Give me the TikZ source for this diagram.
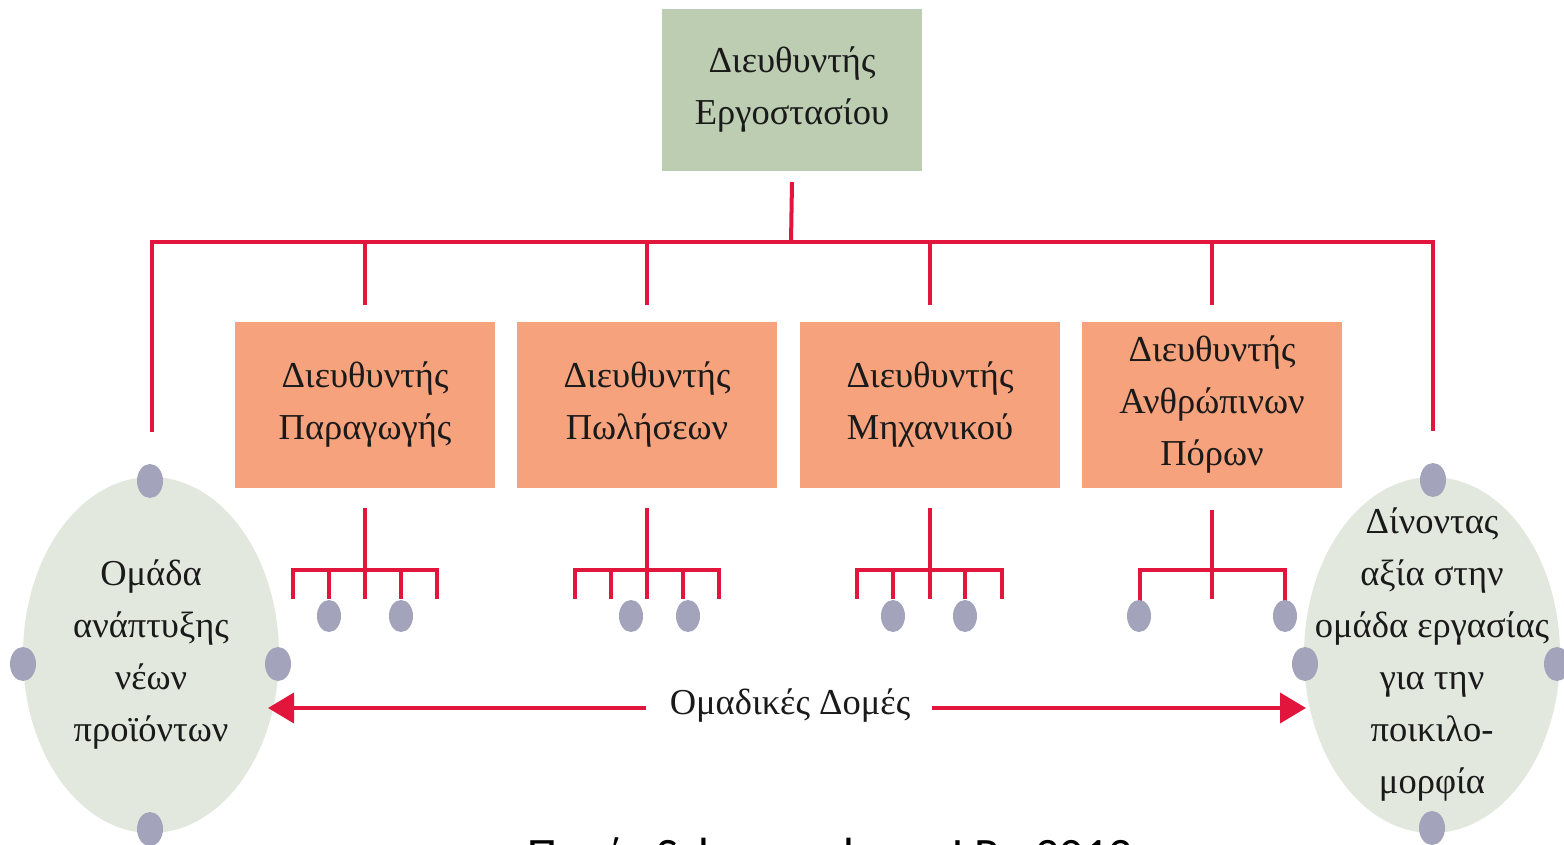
\documentclass[tikz,border=0pt]{standalone}
\usepackage{fontspec}
\setmainfont{Liberation Serif}
\newfontfamily\srcfont{Carlito}
\usetikzlibrary{shapes.geometric,arrows.meta}
\definecolor{topgreen}{HTML}{BCCDB2}
\definecolor{boxorange}{HTML}{F5A27D}
\definecolor{linered}{HTML}{E2163D}
\definecolor{ellfill}{HTML}{E3E8DE}
\definecolor{dotgray}{HTML}{A3A3BC}
\definecolor{textdark}{HTML}{1A1A1A}
\tikzset{
  txt/.style={font=\fontsize{36.5}{52}\selectfont, text=textdark, align=center},
  topbox/.style={txt, fill=topgreen, minimum width=260pt, minimum height=162pt, inner sep=0pt},
  mgrbox/.style={txt, fill=boxorange, minimum width=260pt, minimum height=166pt, inner sep=0pt},
  teamell/.style={ellipse, fill=ellfill, minimum width=256pt, minimum height=356pt, inner sep=0pt},
  bigdot/.style={ellipse, fill=dotgray, minimum width=26pt, minimum height=34pt, inner sep=0pt},
  smalldot/.style={ellipse, fill=dotgray, minimum width=24pt, minimum height=32pt, inner sep=0pt},
  redline/.style={draw=linered, line width=4pt},
  redarrow/.style={redline, -{Triangle[length=26pt,width=30pt]}},
}
\begin{document}
\begin{tikzpicture}[x=1pt,y=-1pt]
\useasboundingbox (0,0) rectangle (1564,845);
\clip (0,0) rectangle (1564,845);
\fill[white] (0,0) rectangle (1564,845);

% top box
\node[topbox] (T) at (792,90) {Διευθυντής\\Εργοστασίου};

% manager boxes
\node[mgrbox] (B1) at (365,405) {Διευθυντής\\Παραγωγής};
\node[mgrbox] (B2) at (647,405) {Διευθυντής\\Πωλήσεων};
\node[mgrbox] (B3) at (930,405) {Διευθυντής\\Μηχανικού};
\node[mgrbox] (B4) at (1212,405) {Διευθυντής\\Ανθρώπινων\\Πόρων};

% team ellipses
\node[teamell] (L) at (151,655) {};
\node[teamell] (R) at (1432,655) {};
\node[txt] (Ltext) at (L.center) {Ομάδα\\ανάπτυξης\\νέων\\προϊόντων};
\node[txt] (Rtext) at (R.center) {Δίνοντας\\αξία στην\\ομάδα εργασίας\\για την\\ποικιλο-\\μορφία};

% dots around ellipses
\node[bigdot] (Lt) at (150,481) {};
\node[bigdot] (Lb) at (150,829) {};
\node[bigdot] (Ll) at (23,664) {};
\node[bigdot] (Lr) at (278,664) {};
\node[bigdot] (Rt) at (1433,480) {};
\node[bigdot] (Rb) at (1432,828) {};
\node[bigdot] (Rl) at (1305,664) {};
\node[bigdot] (Rr) at (1557,664) {};

% main connector tree
\coordinate (J) at (791,242);
\coordinate (JL) at (152,242);
\coordinate (JR) at (1433,242);
\draw[redline] ([yshift=-11pt]T.south) -- (J);
\draw[redline, line cap=rect] ([yshift=34pt]Lt.north -| JL) -- (JL) -- (JR) -- ([yshift=34pt]Rt.north -| JR);
\foreach \b in {B1,B2,B3,B4}{
  \draw[redline] (\b.north |- J) -- ([yshift=17pt]\b.north);
}

% sub trees below boxes
\foreach \b/\l/\r in {B1/293/437, B2/575/719, B3/857/1002}{
  \draw[redline] ([yshift=-20pt]\b.south) -- (\b.south |- 0,599);
  \draw[redline] (\l,599) -- (\l,570) -- (\r,570) -- (\r,599);
}
\foreach \x in {329,401}{ \draw[redline] (\x,570) -- (\x,599); }
\foreach \x in {611,683}{ \draw[redline] (\x,570) -- (\x,599); }
\foreach \x in {893,965}{ \draw[redline] (\x,570) -- (\x,599); }
\draw[redline] ([yshift=-22pt]B4.south) -- (B4.south |- 0,599);
\draw[redline] (1140,602) -- (1140,570) -- (1285,570) -- (1285,602);

\node[smalldot] (d11) at (329,616) {};
\node[smalldot] (d12) at (401,616) {};
\node[smalldot] (d21) at (631,616) {};
\node[smalldot] (d22) at (688,616) {};
\node[smalldot] (d31) at (893,616) {};
\node[smalldot] (d32) at (965,616) {};
\node[smalldot] (d41) at (1139,616) {};
\node[smalldot] (d42) at (1285,616) {};

% team structures arrow
\node[txt] (OD) at (790,706) {Ομαδικές Δομές};
\coordinate (Ltip) at (268,708);
\coordinate (Rtip) at (1306,708);
\draw[redarrow] ([xshift=-20pt]OD.west |- Ltip) -- (Ltip);
\draw[redarrow] ([xshift=18pt]OD.east |- Rtip) -- (Rtip);

% source (cut off at bottom, as in the reference)
\node[anchor=base west, font=\srcfont\fontsize{48}{56}\selectfont, inner sep=0pt] (src) at (527,871) {Πηγή: Schermerhorn J.R., 2012};
\end{tikzpicture}
\end{document}
